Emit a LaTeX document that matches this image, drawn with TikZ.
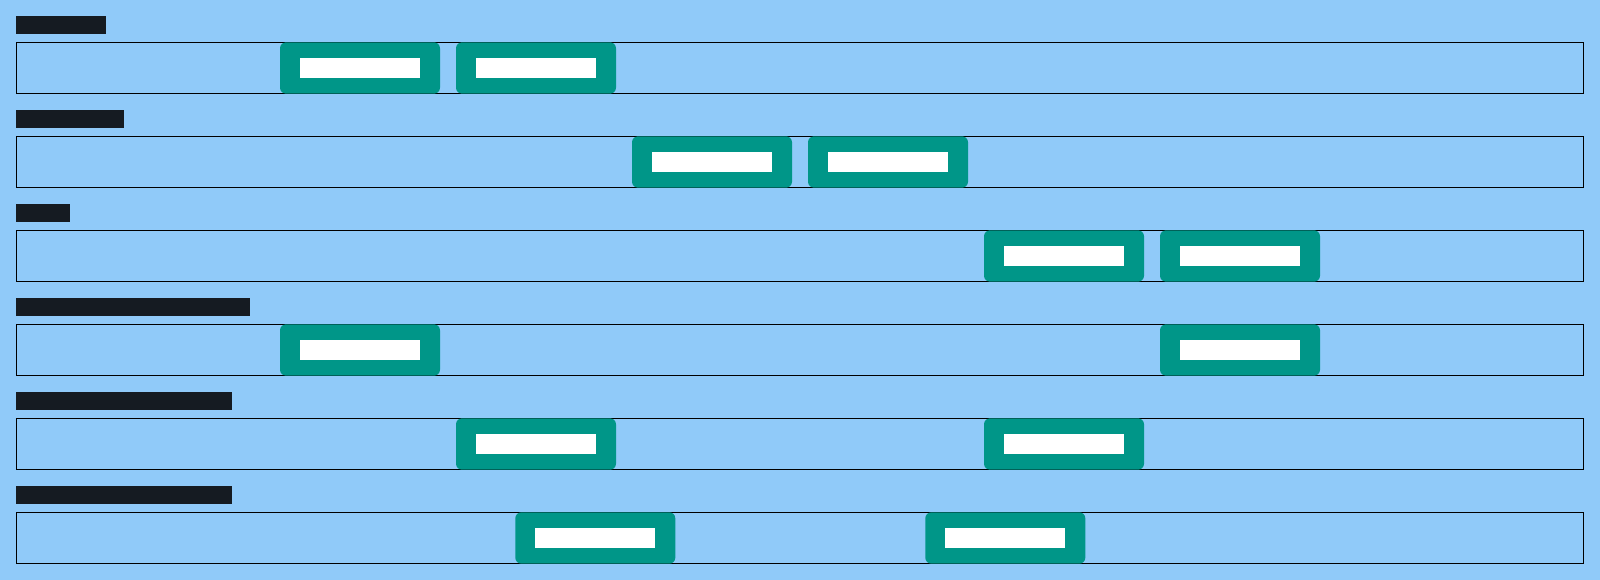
\documentclass[tikz,border=0pt]{standalone}
\definecolor{bgblue}{HTML}{90CAF9}
\definecolor{tealc}{HTML}{009688}
\definecolor{darkbar}{HTML}{151B22}
\begin{document}
\begin{tikzpicture}[x=1pt,y=-1pt,
  lane/.style={draw=black,line width=1pt,fill=none,anchor=north west,minimum width=1567.4pt,minimum height=51.4pt,inner sep=0pt,outer sep=0pt},
  bar/.style={fill=darkbar,anchor=north west,minimum height=18pt,inner sep=0pt,outer sep=0pt},
  slot/.style={fill=tealc,rounded corners=6pt,anchor=north west,minimum width=160pt,minimum height=51.4pt,inner sep=0pt,outer sep=0pt},
  slotin/.style={fill=white,minimum width=120pt,minimum height=19.7pt,inner sep=0pt,outer sep=0pt}]
\fill[bgblue] (0,0) rectangle (1600,580);
\useasboundingbox (0,0) rectangle (1600,580);
% rows
\foreach \i/\w in {1/89.8,2/108,3/54,4/234,5/216,6/216}{
  \node[bar,minimum width=\w pt] (label\i) at (16.2,{16+94*(\i-1)}) {};
  \node[lane] (lane\i) at (16.2,{42.3+94*(\i-1)}) {};
}
% slots
\foreach \i/\a/\b in {1/280/456,2/632/808,3/984/1160,4/280/1160,5/456/984,6/515.3/925.3}{
  \node[slot] (slot\i a) at (\a,{42.3+94*(\i-1)}) {};
  \node[slotin] (in\i a) at (slot\i a.center) {};
  \node[slot] (slot\i b) at (\b,{42.3+94*(\i-1)}) {};
  \node[slotin] (in\i b) at (slot\i b.center) {};
}
\end{tikzpicture}
\end{document}
